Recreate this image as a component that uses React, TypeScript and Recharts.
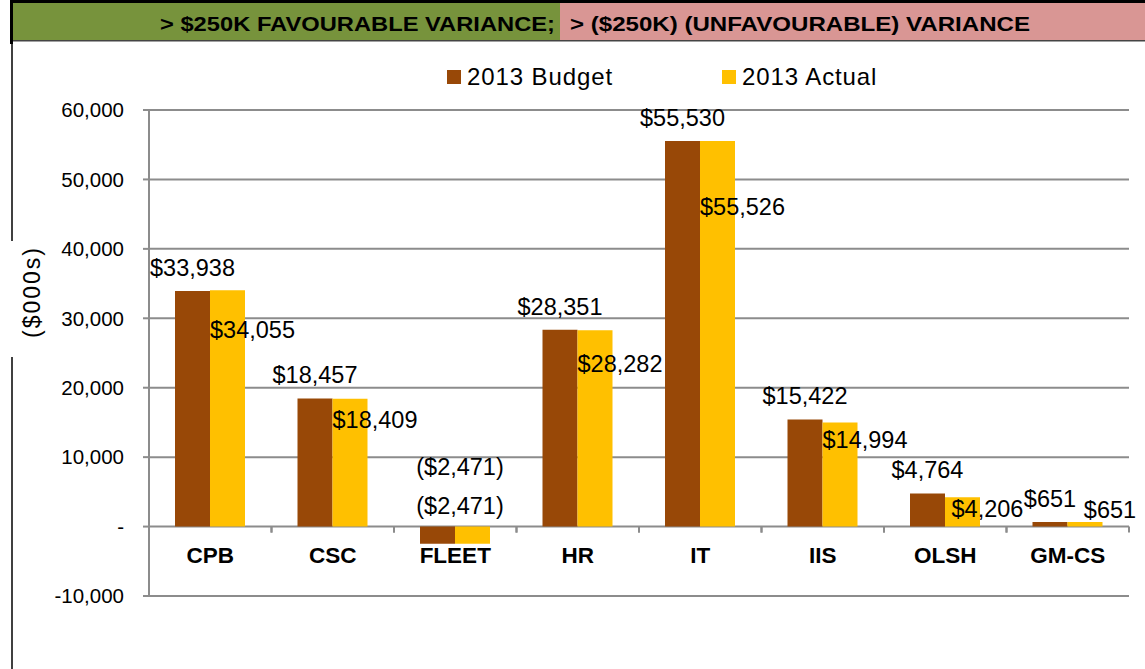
import { Bar, BarChart, CartesianGrid, LabelList, XAxis, YAxis } from "recharts";

const units = ["CPB", "CSC", "FLEET", "HR", "IT", "IIS", "OLSH", "GM-CS"];
const budget2013 = [33938, 18457, -2471, 28351, 55530, 15422, 4764, 651];
const actual2013 = [34055, 18409, -2471, 28282, 55526, 14994, 4206, 651];
const yTicks = [-10000, 0, 10000, 20000, 30000, 40000, 50000, 60000];

const rows = units.map((unit, i) => ({ unit, budget: budget2013[i], actual: actual2013[i] }));

const W = 1145;
const H = 669;
const TOP = 110;
const LEFT = 149;
const RIGHT = 16;
const XAXIS_H = 73;
const Y_MIN = -10000;
const Y_MAX = 60000;
const PLOT_H = H - TOP - XAXIS_H;
const ZERO_Y = TOP + (PLOT_H * Y_MAX) / (Y_MAX - Y_MIN);
const BAND = (W - LEFT - RIGHT) / units.length;

const BROWN = "#984807";
const GOLD = "#FFC000";
const GRID = "#8c8c8c";
const FONT = "'Liberation Sans', Arial, sans-serif";
const LABEL_SIZE = 23.5;

const money = (v: number) =>
  v < 0 ? `($${Math.abs(v).toLocaleString("en-US")})` : `$${v.toLocaleString("en-US")}`;

function CategoryTick({ x, payload }: any) {
  return (
    <g>
      <line x1={x - BAND / 2} x2={x - BAND / 2} y1={ZERO_Y} y2={ZERO_Y + 6} stroke={GRID} strokeWidth={2} />
      <line x1={x + BAND / 2} x2={x + BAND / 2} y1={ZERO_Y} y2={ZERO_Y + 6} stroke={GRID} strokeWidth={2} />
      <text
        x={x}
        y={ZERO_Y + 29}
        textAnchor="middle"
        dominantBaseline="central"
        fontFamily={FONT}
        fontSize={22.5}
        fontWeight="bold"
        fill="#000"
      >
        {payload.value}
      </text>
    </g>
  );
}

function BudgetLabel({ x, y, width, height, value }: any) {
  const top = Math.min(y, y + height);
  const neg = value < 0;
  return (
    <text
      x={neg ? x + width + 5 : x + width / 2}
      y={neg ? ZERO_Y - 60 : top - 23}
      textAnchor="middle"
      dominantBaseline="central"
      fontFamily={FONT}
      fontSize={LABEL_SIZE}
      fill="#000"
    >
      {money(value)}
    </text>
  );
}

function ActualLabel({ x, y, width, height, value }: any) {
  const top = Math.min(y, y + height);
  const h = Math.abs(height);
  const neg = value < 0;
  let cy = h < 20 ? top - 12 : top + Math.max(12, 0.17 * h);
  let cx = x + width / 2 + 25;
  if (neg) {
    cy = ZERO_Y - 21;
    cx = x + 5;
  }
  return (
    <text x={cx} y={cy} textAnchor="middle" dominantBaseline="central" fontFamily={FONT} fontSize={LABEL_SIZE} fill="#000">
      {money(value)}
    </text>
  );
}

function ChartLegend() {
  const items = [
    { name: "2013 Budget", color: BROWN, x: 447 },
    { name: "2013 Actual", color: GOLD, x: 722 },
  ];
  return (
    <div style={{ position: "absolute", top: 62, left: 0, width: W, height: 30, fontFamily: FONT }}>
      {items.map((it) => (
        <div key={it.name} style={{ position: "absolute", left: it.x, top: 0, display: "flex", alignItems: "center" }}>
          <span style={{ width: 14, height: 14, background: it.color, display: "inline-block" }} />
          <span style={{ marginLeft: 6, fontSize: 24, letterSpacing: 0.9, color: "#000", lineHeight: "30px" }}>
            {it.name}
          </span>
        </div>
      ))}
    </div>
  );
}

function Header() {
  return (
    <svg width={W} height={46} style={{ position: "absolute", left: 0, top: 0 }}>
      <rect x={13} y={3} width={547} height={37} fill="#77933C" />
      <rect x={560} y={3} width={W - 560} height={37} fill="#D99694" />
      <rect x={10} y={0} width={W - 10} height={3} fill="#000" />
      <rect x={10} y={0} width={3} height={44} fill="#000" />
      <rect x={13} y={40} width={W - 13} height={1.5} fill="#444" />
      <text x={160} y={31} textLength={395} lengthAdjust="spacingAndGlyphs" fontFamily={FONT} fontSize={21} fontWeight="bold" fill="#000">
        {"> $250K FAVOURABLE VARIANCE;"}
      </text>
      <text x={570} y={31} textLength={460} lengthAdjust="spacingAndGlyphs" fontFamily={FONT} fontSize={21} fontWeight="bold" fill="#000">
        {"> ($250K) (UNFAVOURABLE) VARIANCE"}
      </text>
    </svg>
  );
}

export default function App() {
  return (
    <div style={{ position: "absolute", left: 0, top: 0, width: W, height: H, background: "#fff" }}>
      <div style={{ position: "absolute", left: 11, top: 41, width: 2, height: 200, background: "#404040" }} />
      <div style={{ position: "absolute", left: 11, top: 357, width: 2, height: H - 357, background: "#404040" }} />
      <BarChart
        width={W}
        height={H}
        data={rows}
        margin={{ top: TOP, right: RIGHT, bottom: 0, left: 0 }}
        barGap={0}
        barSize={35}
      >
        <CartesianGrid vertical={false} stroke={GRID} strokeWidth={2} />
        <YAxis
          width={LEFT}
          domain={[Y_MIN, Y_MAX]}
          ticks={yTicks}
          interval={0}
          allowDataOverflow
          axisLine={{ stroke: GRID, strokeWidth: 2 }}
          tickLine={{ stroke: GRID, strokeWidth: 2 }}
          tickSize={6}
          tickMargin={19}
          tick={{ fill: "#000", fontSize: 20.5, fontFamily: FONT }}
          tickFormatter={(v: number) => (v === 0 ? "-" : v.toLocaleString("en-US"))}
          label={{
            content: () => (
              <text
                x={32}
                y={292}
                transform="rotate(-90 32 292)"
                textAnchor="middle"
                dominantBaseline="central"
                fontFamily={FONT}
                fontSize={23}
                letterSpacing={2}
                fill="#000"
              >
                ($000s)
              </text>
            ),
          }}
        />
        <XAxis dataKey="unit" height={XAXIS_H} axisLine={false} tickLine={false} interval={0} tick={<CategoryTick />} />
        <Bar dataKey="budget" name="2013 Budget" fill={BROWN} isAnimationActive={false}>
          <LabelList dataKey="budget" content={<BudgetLabel />} />
        </Bar>
        <Bar dataKey="actual" name="2013 Actual" fill={GOLD} isAnimationActive={false}>
          <LabelList dataKey="actual" content={<ActualLabel />} />
        </Bar>
      </BarChart>
      <ChartLegend />
      <Header />
    </div>
  );
}
